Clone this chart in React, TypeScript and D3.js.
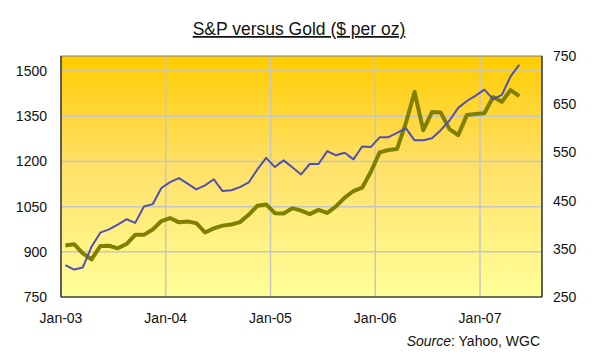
import React from 'react';
import * as d3 from 'd3';

// Monthly data, Jan-03 .. May-07
const sp500 = [
  855.7, 841.2, 848.2, 916.9, 963.6, 974.5, 990.3, 1008.0, 996.0, 1050.7, 1058.2, 1111.9,
  1131.1, 1144.9, 1126.2, 1107.3, 1120.7, 1140.8, 1101.7, 1104.2, 1114.6, 1130.2, 1173.8, 1211.9,
  1181.3, 1203.6, 1180.6, 1156.9, 1191.5, 1191.3, 1234.2, 1220.3, 1228.8, 1207.0, 1249.5, 1248.3,
  1280.1, 1280.7, 1294.8, 1310.6, 1270.1, 1270.2, 1276.7, 1303.8, 1335.9, 1377.9, 1400.6, 1418.3,
  1438.2, 1406.8, 1420.9, 1482.4, 1521.0,
];
const gold = [
  356.9, 359.5, 340.6, 328.2, 355.7, 356.4, 351.0, 359.8, 378.9, 378.9, 389.9, 407.6,
  413.8, 404.9, 406.7, 403.3, 383.8, 392.4, 398.1, 400.5, 405.3, 420.5, 439.4, 442.1,
  424.0, 423.4, 434.3, 429.2, 421.9, 430.7, 424.5, 437.9, 456.0, 469.9, 476.7, 509.8,
  549.9, 555.0, 557.1, 610.6, 675.4, 596.1, 633.7, 632.6, 598.2, 585.8, 627.8, 629.8,
  631.2, 664.8, 654.9, 679.4, 666.9,
];
const xTickLabels = ['Jan-03', 'Jan-04', 'Jan-05', 'Jan-06', 'Jan-07'];
const xTickMonths = [0, 12, 24, 36, 48];
const leftTicks = [750, 900, 1050, 1200, 1350, 1500];
const rightTicks = [250, 350, 450, 550, 650, 750];

const L = 61, R = 542, T = 56, B = 297;
const FONT = 'Liberation Sans, Arial, sans-serif';

export default function App() {
  const x = d3.scaleLinear().domain([0, 55.1]).range([L, R]);
  const yL = d3.scaleLinear().domain([750, 1550]).range([B, T]);
  const yR = d3.scaleLinear().domain([250, 750]).range([B, T]);

  const spLine = d3.line<number>().x((_, i) => x(i + 0.5)).y((d) => yL(d));
  const goldLine = d3.line<number>().x((_, i) => x(i + 0.5)).y((d) => yR(d));

  return (
    <svg width={600} height={362} style={{ position: 'absolute', left: 0, top: 0, background: '#fff' }}>
      <defs>
        <linearGradient id="bg" x1="0" y1="0" x2="0" y2="1">
          <stop offset="0%" stopColor="#FFCC00" />
          <stop offset="45%" stopColor="#FFE068" />
          <stop offset="100%" stopColor="#FFFF99" />
        </linearGradient>
      </defs>
      <rect x={0} y={0} width={600} height={362} fill="#fff" />
      <text x={299} y={35} textAnchor="middle" fontFamily={FONT} fontSize={17.5} fill="#111" textDecoration="underline">
        S&amp;P versus Gold ($ per oz)
      </text>
      <rect x={L} y={T} width={R - L} height={B - T} fill="url(#bg)" />
      {leftTicks.slice(1).map((t) => (
        <line key={'h' + t} x1={L} x2={R} y1={yL(t)} y2={yL(t)} stroke="#C6C6C6" strokeWidth={1.5} />
      ))}
      {xTickMonths.slice(1).map((m) => (
        <line key={'v' + m} x1={x(m)} x2={x(m)} y1={T} y2={B} stroke="#C6C6C6" strokeWidth={1.5} />
      ))}
      <rect x={L} y={T} width={R - L} height={B - T} fill="none" stroke="#808080" strokeWidth={1} />
      <line x1={L} x2={L} y1={T} y2={B} stroke="#222" strokeWidth={1.2} />
      <line x1={R} x2={R} y1={T} y2={B} stroke="#222" strokeWidth={1.2} />
      <line x1={L} x2={R} y1={B} y2={B} stroke="#222" strokeWidth={1.2} />
      <path d={goldLine(gold) || ''} fill="none" stroke="#808000" strokeWidth={4} strokeLinejoin="round" />
      <path d={spLine(sp500) || ''} fill="none" stroke="#5050B0" strokeWidth={2} strokeLinejoin="round" />
      {leftTicks.map((t) => (
        <text key={'l' + t} x={47} y={yL(t) + 5} textAnchor="end" fontFamily={FONT} fontSize={14} fill="#111">
          {t}
        </text>
      ))}
      {rightTicks.map((t) => (
        <text key={'r' + t} x={553} y={yR(t) + 5} textAnchor="start" fontFamily={FONT} fontSize={14} fill="#111">
          {t}
        </text>
      ))}
      {xTickMonths.map((m, i) => (
        <text key={'x' + m} x={x(m)} y={323} textAnchor="middle" fontFamily={FONT} fontSize={14} fill="#111">
          {xTickLabels[i]}
        </text>
      ))}
      <text x={540} y={346} textAnchor="end" fontFamily={FONT} fontSize={14} fill="#111">
        <tspan fontStyle="italic">Source</tspan>: Yahoo, WGC
      </text>
    </svg>
  );
}
